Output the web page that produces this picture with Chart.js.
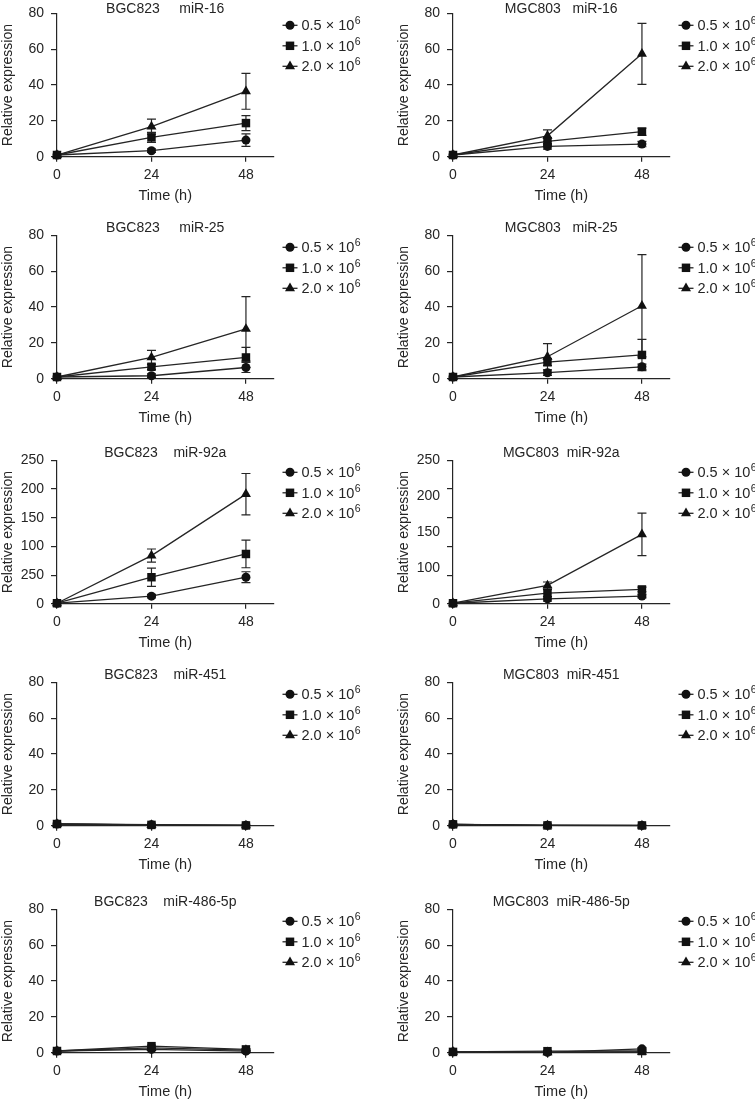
<!DOCTYPE html>
<html>
<head>
<meta charset="utf-8">
<script src="https://cdn.jsdelivr.net/npm/chart.js@4.4.1/dist/chart.umd.min.js"></script>
<style>
  html, body { margin: 0; padding: 0; background: #fff; }
  body { position: relative; width: 755px; height: 1100px; overflow: hidden; }
  canvas { position: absolute; }
</style>
</head>
<body>
<script>
// time points (h) and series
const timePoints = [0, 24, 48];
const xTicks = [0, 24, 48];
const seriesLabels = ['0.5 × 10', '1.0 × 10', '2.0 × 10'];
const seriesExp = '6';
const pointStyles = ['circle', 'rect', 'triangle'];

// y ticks
const ticks80 = [0, 20, 40, 60, 80];
const labels80 = ['0', '20', '40', '60', '80'];
const ticksBgc92 = [0, 50, 100, 150, 200, 250];
const labelsBgc92 = ['0', '250', '100', '150', '200', '250'];
// MGC803 miR-92a: tick marks every 50, labels sit off the marks in the original
const ticksMgc92 = [0, 50, 62.5, 100, 125, 150, 187.5, 200, 250];
const labelsMgc92 = ['0', '', '100', '', '150', '', '200', '', '250'];
const marksMgc92 = [0, 50, 100, 150, 200, 250];

// means per series: [0.5e6, 1.0e6, 2.0e6], each at 0, 24, 48 h
const bgc16 = [[1, 3.4, 9.3], [1, 10.8, 18.8], [1, 16.8, 36.5]];
const bgc16Err = [[0, 1, 3.5], [0, 2.8, 4.2], [0, 4.2, 10]];
const mgc16 = [[1, 5.8, 7.1], [1, 8.6, 14], [1, 11.7, 57.4]];
const mgc16Err = [[0, 1.5, 1.5], [0, 2, 2], [0, 3.3, 17]];
const bgc25 = [[1, 1.7, 6.3], [1, 6.7, 11.9], [1, 11.9, 27.8]];
const bgc25Err = [[0, 1, 2.8], [0, 1.5, 5.6], [0, 4, 18]];
const mgc25 = [[1, 3.4, 6.7], [1, 9.3, 13.3], [1, 12.3, 40.7]];
const mgc25Err = [[0, 1.5, 1.5], [0, 2, 8.7], [0, 7.3, 28.5]];
const bgc92 = [[1, 13.3, 46.3], [1, 46.3, 86.8], [1, 84, 191]];
const bgc92Err = [[0, 3, 9.5], [0, 16, 24], [0, 11.5, 36]];
const mgc92 = [[1, 8.7, 13.4], [1, 18.6, 25], [1, 32, 121]];
const mgc92Err = [[0, 4, 3], [0, 6, 4], [0, 6, 37]];
const bgc451 = [[1, 0.6, 0.3], [1, 0.5, 0.2], [1, 0.4, 0.2]];
const mgc451 = [[0.8, 0.3, 0.2], [0.8, 0.2, 0.2], [0.8, 0.2, 0.1]];
const bgc486 = [[1, 1.9, 0.9], [1, 3.7, 1.9], [1, 2.8, 1.5]];
const bgc486Err = [[0, 0.5, 0.4], [0, 0.6, 0.5], [0, 0.5, 0.4]];
const mgc486 = [[0.5, 0.2, 2.2], [0.5, 0.9, 1], [0.5, 0.3, 0.5]];
const mgc486Err = [[0, 0.2, 0.5], [0, 0.3, 0.3], [0, 0.2, 0.2]];

const INK = '#252525';
const MARK = '#111';
const FONT = '"Liberation Sans", Arial, Helvetica, sans-serif';

Chart.defaults.font.family = FONT;
Chart.defaults.color = INK;

// [title, means, errors, y max, ticks, labels, tick marks]
const panels = [
  ['BGC823     miR-16', bgc16, bgc16Err, 80, ticks80, labels80, null],
  ['MGC803   miR-16', mgc16, mgc16Err, 80, ticks80, labels80, null],
  ['BGC823     miR-25', bgc25, bgc25Err, 80, ticks80, labels80, null],
  ['MGC803   miR-25', mgc25, mgc25Err, 80, ticks80, labels80, null],
  ['BGC823    miR-92a', bgc92, bgc92Err, 250, ticksBgc92, labelsBgc92, null],
  ['MGC803  miR-92a', mgc92, mgc92Err, 250, ticksMgc92, labelsMgc92, marksMgc92],
  ['BGC823    miR-451', bgc451, null, 80, ticks80, labels80, null],
  ['MGC803  miR-451', mgc451, null, 80, ticks80, labels80, null],
  ['BGC823    miR-486-5p', bgc486, bgc486Err, 80, ticks80, labels80, null],
  ['MGC803  miR-486-5p', mgc486, mgc486Err, 80, ticks80, labels80, null]
];

const colX = [0, 396];
const colW = [378, 359];
const rowTop = [13, 235, 460, 682, 909];
const titleDrop = [3, 0, 0, 0, 0]; // first row's titles sit closer to the plot
const TITLE_SIZE = 14;
const TOP = TITLE_SIZE * 1.2 + 3.5;

const errorBars = {
  id: 'errorBars',
  beforeDatasetsDraw(chart) {
    const ctx = chart.ctx, ys = chart.scales.y;
    ctx.save();
    ctx.strokeStyle = INK;
    ctx.lineWidth = 1.2;
    chart.data.datasets.forEach((ds, i) => {
      const meta = chart.getDatasetMeta(i);
      meta.data.forEach((pt, j) => {
        const e = ds.errors[j];
        if (!e) return;
        const v = ds.data[j].y;
        const y1 = ys.getPixelForValue(v + e), y2 = ys.getPixelForValue(Math.max(v - e, 0));
        ctx.beginPath();
        ctx.moveTo(pt.x, y1); ctx.lineTo(pt.x, y2);
        ctx.moveTo(pt.x - 4.5, y1); ctx.lineTo(pt.x + 4.5, y1);
        ctx.moveTo(pt.x - 4.5, y2); ctx.lineTo(pt.x + 4.5, y2);
        ctx.stroke();
      });
    });
    ctx.restore();
  }
};

const sideLegend = {
  id: 'sideLegend',
  afterDraw(chart) {
    const ctx = chart.ctx, a = chart.chartArea;
    ctx.save();
    chart.data.datasets.forEach((ds, i) => {
      const x0 = a.right + 9, yy = a.top + 12 + i * 20.5;
      ctx.strokeStyle = INK;
      ctx.lineWidth = 1.3;
      ctx.beginPath(); ctx.moveTo(x0, yy); ctx.lineTo(x0 + 15, yy); ctx.stroke();
      ctx.fillStyle = MARK;
      Chart.helpers.drawPoint(ctx, { pointStyle: ds.pointStyle, radius: ds.pointRadius, rotation: 0, borderWidth: 0 }, x0 + 7.5, yy);
      ctx.fillStyle = INK;
      ctx.textBaseline = 'middle';
      ctx.textAlign = 'left';
      ctx.font = '14.5px ' + FONT;
      const base = seriesLabels[i];
      ctx.fillText(base, x0 + 19, yy + 1);
      const w = ctx.measureText(base).width;
      ctx.font = '10.5px ' + FONT;
      ctx.fillText(seriesExp, x0 + 19.5 + w, yy - 4);
    });
    ctx.restore();
  }
};

panels.forEach(([title, means, errs, yMax, yTicks, yLabels, yMarks], k) => {
  const col = k % 2, row = Math.floor(k / 2);
  const canvas = document.createElement('canvas');
  canvas.width = colW[col];
  canvas.height = 212;
  canvas.style.left = colX[col] + 'px';
  canvas.style.top = (rowTop[row] - TOP) + 'px';
  document.body.appendChild(canvas);

  const datasets = means.map((vals, s) => ({
    label: seriesLabels[s] + '⁶',
    data: timePoints.map((t, j) => ({ x: t, y: vals[j] })),
    errors: errs ? errs[s] : [],
    borderColor: INK,
    backgroundColor: MARK,
    borderWidth: 1.3,
    pointStyle: pointStyles[s],
    pointRadius: [4.5, 6, 5.8][s],
    pointBackgroundColor: MARK,
    pointBorderColor: MARK,
    pointBorderWidth: 0,
    tension: 0,
    clip: false
  }));

  new Chart(canvas, {
    type: 'line',
    data: { datasets },
    plugins: [errorBars, sideLegend],
    options: {
      responsive: false,
      animation: false,
      events: [],
      layout: { padding: { left: 0, right: colW[col] - 273.5, top: 0, bottom: 212 - TOP - 143.5 - 47.5 } },
      plugins: {
        legend: { display: false },
        tooltip: { enabled: false },
        title: {
          display: true, text: title, fullSize: false, color: INK,
          font: { size: TITLE_SIZE, weight: 'normal' },
          padding: { top: 5 + titleDrop[row], bottom: -1.5 - titleDrop[row] }
        }
      },
      scales: {
        x: {
          type: 'linear', min: 0, max: 55,
          afterBuildTicks: s => { s.ticks = xTicks.map(v => ({ value: v })); },
          afterFit: s => { s.height = 47.5; },
          ticks: { font: { size: 14 }, padding: 5, color: INK, autoSkip: false, maxRotation: 0 },
          grid: { drawOnChartArea: false, tickLength: 5, color: INK, lineWidth: 1.2 },
          border: { display: true, color: INK, width: 1.2 },
          title: { display: true, text: 'Time (h)', font: { size: 14.5 }, color: INK, padding: { top: 0, bottom: 0 } }
        },
        y: {
          type: 'linear', min: 0, max: yMax,
          afterBuildTicks: s => { s.ticks = yTicks.map(v => ({ value: v })); },
          afterFit: s => { s.width = 57; },
          ticks: { font: { size: 14 }, padding: 7, color: INK, autoSkip: false, callback: (v, i) => yLabels[i] },
          grid: {
            drawOnChartArea: false, tickLength: 6, lineWidth: 1.2, color: INK,
            tickColor: c => (!yMarks || yMarks.includes(c.tick.value)) ? INK : 'rgba(0,0,0,0)'
          },
          border: { display: true, color: INK, width: 1.2 },
          title: { display: true, text: 'Relative expression', font: { size: 14 }, color: INK, padding: { top: 0, bottom: 0 } }
        }
      }
    }
  });
});
</script>
</body>
</html>
